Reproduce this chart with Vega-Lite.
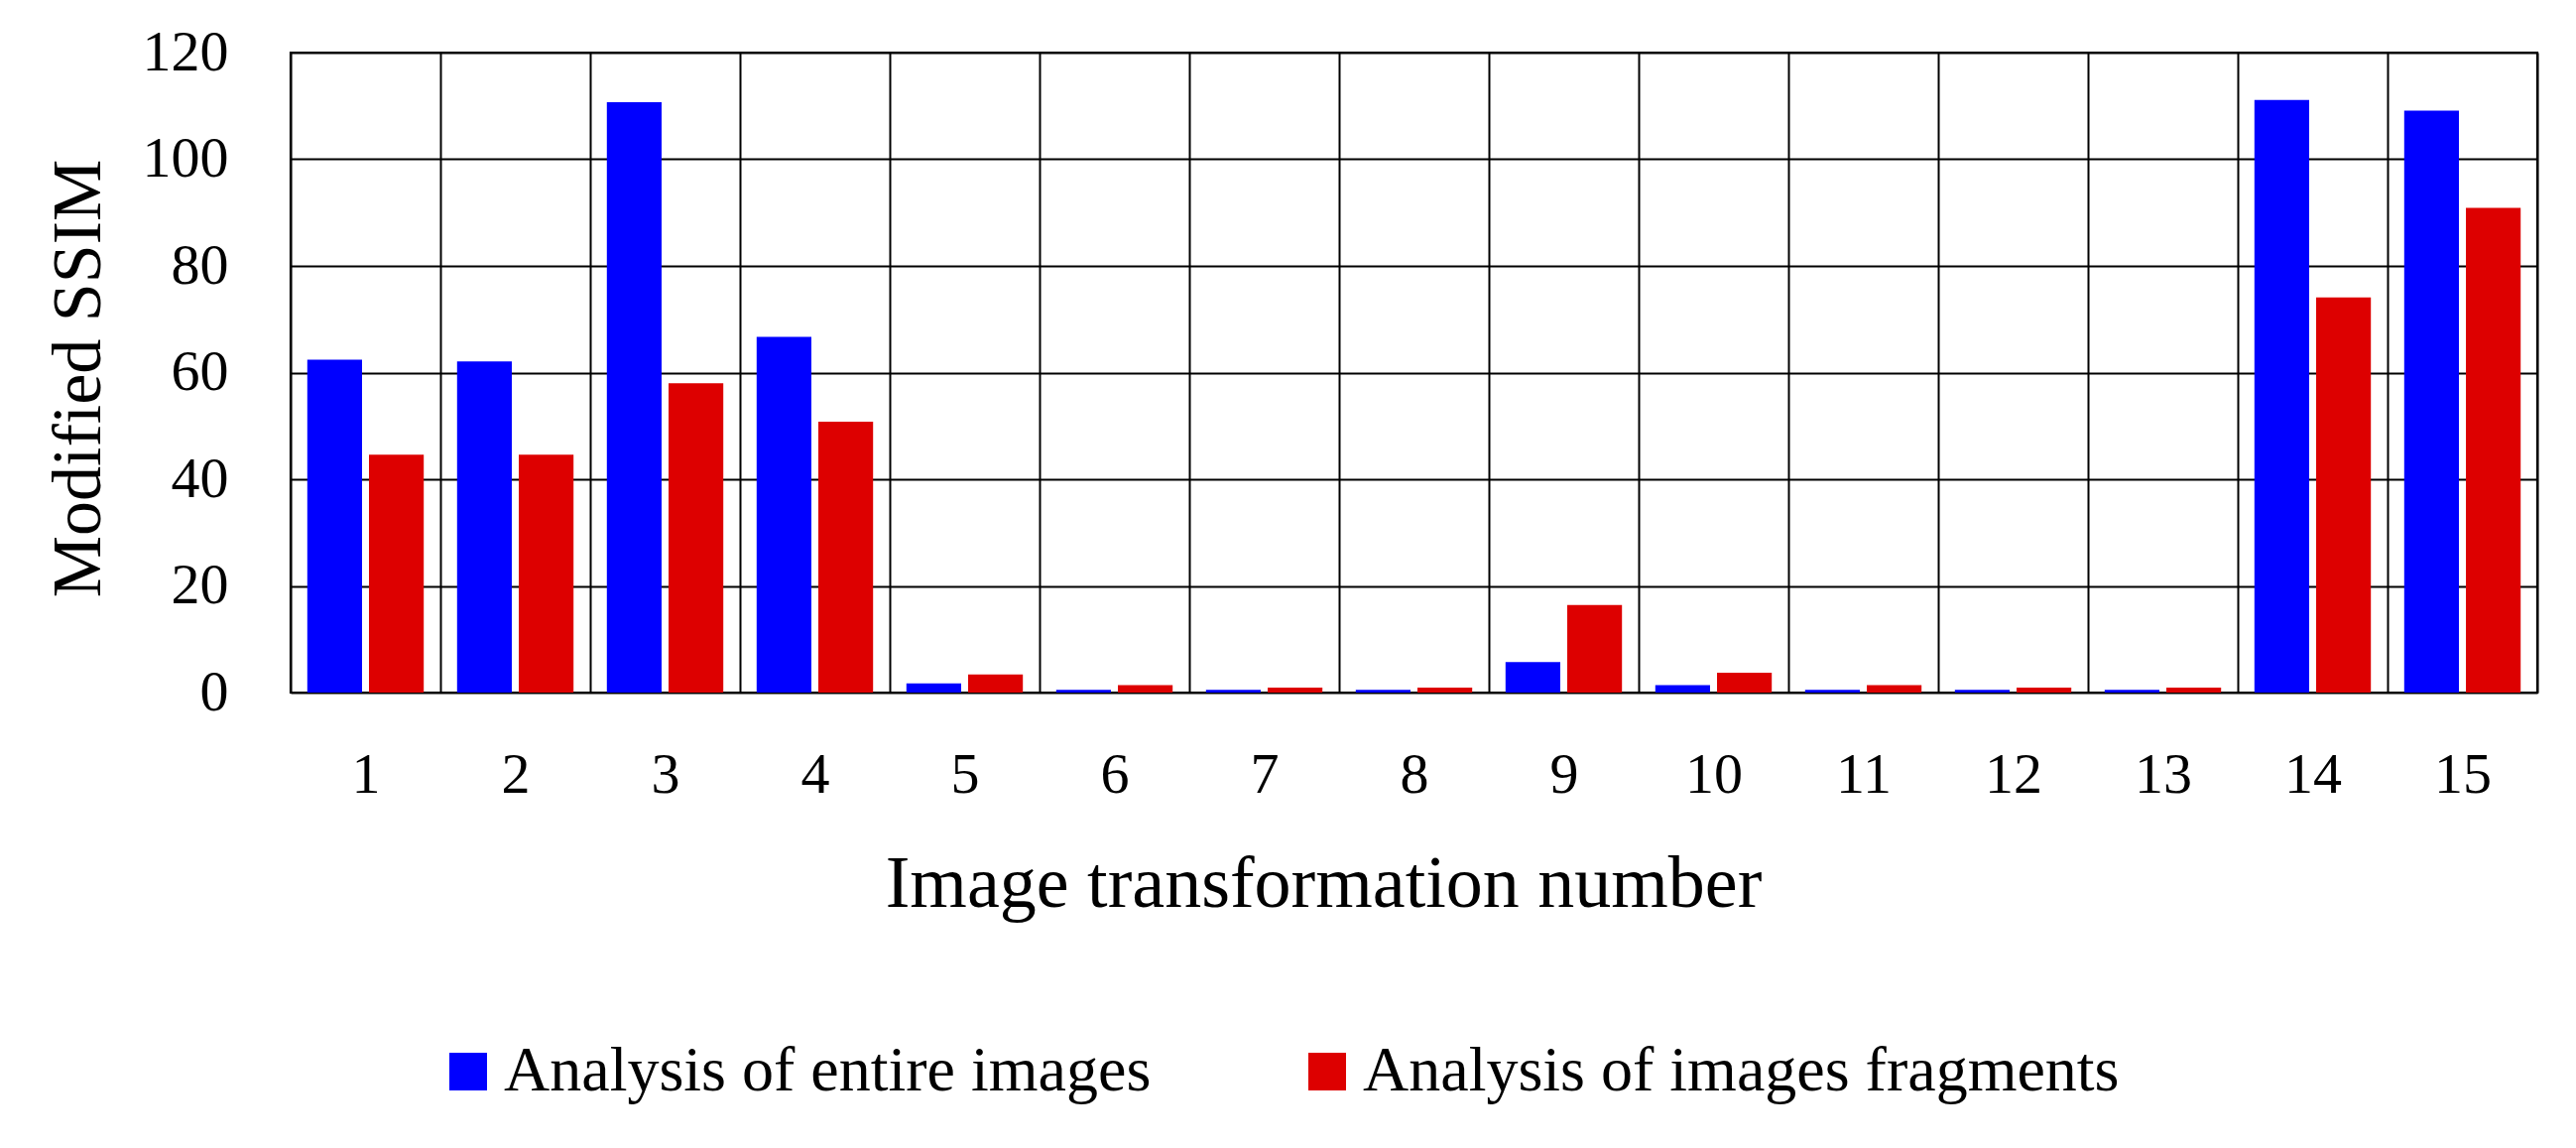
{
  "$schema": "https://vega.github.io/schema/vega-lite/v6.json",
  "autosize": {"type": "none"},
  "width": 2265,
  "height": 645,
  "padding": {"left": 293, "top": 53, "right": 39, "bottom": 459},
  "background": "white",
  "config": {
    "font": "Liberation Serif",
    "view": {"stroke": "black", "strokeWidth": 2.2},
    "axis": {"labelColor": "black", "titleColor": "black", "titleFontWeight": "normal", "labelFont": "Liberation Serif", "titleFont": "Liberation Serif"}
  },
  "data": {
    "values": [
      {"t": 1, "series": "Analysis of entire images", "value": 62.4},
      {"t": 1, "series": "Analysis of images fragments", "value": 44.6},
      {"t": 2, "series": "Analysis of entire images", "value": 62.1},
      {"t": 2, "series": "Analysis of images fragments", "value": 44.6},
      {"t": 3, "series": "Analysis of entire images", "value": 110.7},
      {"t": 3, "series": "Analysis of images fragments", "value": 58.0},
      {"t": 4, "series": "Analysis of entire images", "value": 66.7},
      {"t": 4, "series": "Analysis of images fragments", "value": 50.8},
      {"t": 5, "series": "Analysis of entire images", "value": 1.7},
      {"t": 5, "series": "Analysis of images fragments", "value": 3.4},
      {"t": 6, "series": "Analysis of entire images", "value": 0.5},
      {"t": 6, "series": "Analysis of images fragments", "value": 1.4},
      {"t": 7, "series": "Analysis of entire images", "value": 0.5},
      {"t": 7, "series": "Analysis of images fragments", "value": 0.95},
      {"t": 8, "series": "Analysis of entire images", "value": 0.5},
      {"t": 8, "series": "Analysis of images fragments", "value": 0.95},
      {"t": 9, "series": "Analysis of entire images", "value": 5.7},
      {"t": 9, "series": "Analysis of images fragments", "value": 16.4},
      {"t": 10, "series": "Analysis of entire images", "value": 1.4},
      {"t": 10, "series": "Analysis of images fragments", "value": 3.7},
      {"t": 11, "series": "Analysis of entire images", "value": 0.5},
      {"t": 11, "series": "Analysis of images fragments", "value": 1.4},
      {"t": 12, "series": "Analysis of entire images", "value": 0.5},
      {"t": 12, "series": "Analysis of images fragments", "value": 0.95},
      {"t": 13, "series": "Analysis of entire images", "value": 0.5},
      {"t": 13, "series": "Analysis of images fragments", "value": 0.95},
      {"t": 14, "series": "Analysis of entire images", "value": 111.1},
      {"t": 14, "series": "Analysis of images fragments", "value": 74.1},
      {"t": 15, "series": "Analysis of entire images", "value": 109.1},
      {"t": 15, "series": "Analysis of images fragments", "value": 90.9}
    ]
  },
  "mark": {"type": "bar"},
  "encoding": {
    "x": {
      "field": "t",
      "type": "ordinal",
      "scale": {"paddingInner": 0, "paddingOuter": 0},
      "axis": {
        "title": "Image transformation number",
        "titleFontSize": 74,
        "titleX": 1041,
        "titleY": 215,
        "titleBaseline": "alphabetic",
        "titleAlign": "center",
        "titleAnchor": null,
        "labelAngle": 0,
        "labelFontSize": 58,
        "labelPadding": 54,
        "ticks": false,
        "tickSize": 0,
        "domain": false,
        "grid": true,
        "tickBand": "extent",
        "gridColor": "black",
        "gridWidth": 2,
        "gridOpacity": 1
      }
    },
    "xOffset": {
      "field": "series",
      "type": "nominal",
      "scale": {"paddingInner": 0.113, "paddingOuter": 0.27}
    },
    "y": {
      "field": "value",
      "type": "quantitative",
      "scale": {"domain": [0, 120], "nice": false},
      "axis": {
        "title": "Modified SSIM",
        "titleFontSize": 70,
        "titleX": -193,
        "titleY": 328,
        "titleAngle": -90,
        "titleBaseline": "alphabetic",
        "titleAlign": "center",
        "titleAnchor": null,
        "values": [0, 20, 40, 60, 80, 100, 120],
        "labelFontSize": 58,
        "labelPadding": 63,
        "ticks": false,
        "tickSize": 0,
        "domain": false,
        "grid": true,
        "gridColor": "black",
        "gridWidth": 2,
        "gridOpacity": 1
      }
    },
    "color": {
      "field": "series",
      "type": "nominal",
      "scale": {"domain": ["Analysis of entire images", "Analysis of images fragments"], "range": ["#0000ff", "#dd0000"]},
      "legend": {
        "title": null,
        "orient": "none",
        "direction": "horizontal",
        "legendX": 147,
        "legendY": 995,
        "symbolType": "square",
        "symbolSize": 1444,
        "symbolStrokeWidth": 0,
        "symbolOpacity": 1,
        "labelFontSize": 64,
        "labelFont": "Liberation Serif",
        "labelColor": "black",
        "labelOffset": 4,
        "labelLimit": 1000,
        "columnPadding": 145,
        "padding": 0
      }
    }
  }
}
